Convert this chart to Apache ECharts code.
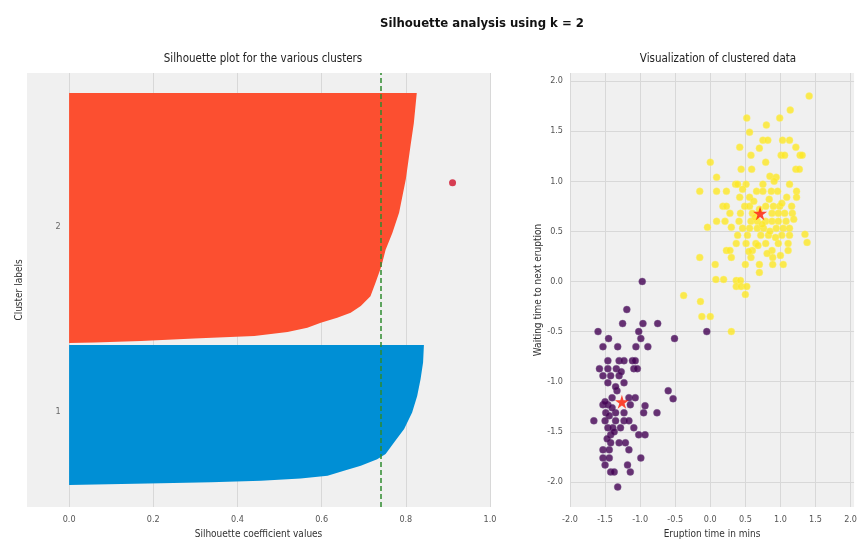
<!DOCTYPE html>
<html>
<head>
<meta charset="utf-8">
<script src="https://cdn.jsdelivr.net/npm/echarts@6/dist/echarts.min.js"></script>
<style>html,body{margin:0;padding:0;background:#fff;}#c{width:860px;height:544px;}</style>
</head>
<body>
<div id="c"></div>
<script>
// ---- Silhouette plot data (silhouette value, sample position) ----
const cluster1Profile = [
  [0.000,15.3],[0.218,16.5],[0.337,17.2],[0.456,18.3],[0.550,19.9],[0.614,21.7],[0.653,25.2],
  [0.693,28.7],[0.732,33.3],[0.752,36.8],[0.772,44.9],[0.796,54.2],[0.815,65.8],[0.827,77.3],
  [0.835,88.9],[0.841,100.5],[0.843,112.8],[0.000,112.8]
];
const cluster2Profile = [
  [0.000,114.2],[0.060,114.4],[0.171,115.5],[0.297,117.2],[0.440,119.0],[0.519,121.7],[0.566,124.8],
  [0.598,128.2],[0.637,131.7],[0.669,135.2],[0.693,139.8],[0.716,146.7],[0.728,156.0],[0.742,167.6],
  [0.752,179.0],[0.768,190.7],[0.784,204.7],[0.800,228.0],[0.811,251.0],[0.819,267.0],[0.826,288.0],[0.000,288.0]
];
const clusterLabels = ['1', '2'];
const clusterLabelPos = [[-0.026, 66], [-0.026, 195]];
const silhouetteAvg = 0.744;
const strayPoint = [[0.911, 225.7]];
const silXTicks = [0.0, 0.2, 0.4, 0.6, 0.8, 1.0];

// ---- Scatter data (eruption, waiting) ----
const scatterXTicks = [-2.0, -1.5, -1.0, -0.5, 0.0, 0.5, 1.0, 1.5, 2.0];
const scatterYTicks = [-2.0, -1.5, -1.0, -0.5, 0.0, 0.5, 1.0, 1.5, 2.0];
const cluster0Points = [
  [-0.97,0.00],[-1.19,-0.28],[-1.25,-0.42],[-0.96,-0.42],[-0.75,-0.42],[-1.60,-0.50],[-1.02,-0.50],[-0.05,-0.50],
  [-1.45,-0.57],[-0.99,-0.57],[-0.51,-0.57],[-1.53,-0.65],[-1.32,-0.65],[-1.06,-0.65],[-0.89,-0.65],
  [-1.46,-0.79],[-1.30,-0.79],[-1.23,-0.79],[-1.11,-0.79],[-1.07,-0.79],[-1.58,-0.87],[-1.46,-0.87],
  [-1.34,-0.87],[-1.09,-0.87],[-1.04,-0.87],[-1.53,-0.94],[-1.42,-0.94],[-1.30,-0.94],[-1.46,-1.01],
  [-1.23,-1.01],[-1.33,-1.09],[-0.60,-1.09],[-1.40,-1.16],[-1.16,-1.16],[-1.07,-1.16],[-0.53,-1.17],
  [-1.53,-1.23],[-1.46,-1.23],[-1.14,-1.23],[-0.93,-1.24],[-1.49,-1.31],[-1.35,-1.31],[-1.23,-1.31],
  [-0.95,-1.31],[-0.76,-1.31],[-1.66,-1.39],[-1.50,-1.39],[-1.35,-1.39],[-1.23,-1.39],[-1.16,-1.39],
  [-1.46,-1.46],[-1.39,-1.46],[-1.28,-1.46],[-1.09,-1.46],[-1.42,-1.53],[-1.02,-1.53],[-0.93,-1.53],
  [-1.42,-1.61],[-1.30,-1.61],[-1.21,-1.61],[-1.53,-1.68],[-1.44,-1.68],[-1.16,-1.68],[-1.53,-1.76],
  [-1.44,-1.76],[-0.99,-1.76],[-1.50,-1.83],[-1.18,-1.83],[-1.42,-1.90],[-1.37,-1.90],[-1.14,-1.90],
  [-1.32,-2.05],[-1.50,-1.20],[-1.40,-1.26],[-1.44,-1.34],[-1.37,-1.50],[-1.47,-1.57],[-1.35,-1.05],[-1.27,-0.90]
];
const cluster1Points = [
  [1.41,1.85],[1.14,1.71],[0.52,1.63],[0.99,1.63],[0.80,1.56],[0.56,1.49],[0.75,1.41],[0.82,1.41],
  [1.03,1.41],[1.13,1.41],[1.22,1.34],[0.42,1.34],[0.70,1.33],[1.28,1.26],[1.31,1.26],[0.58,1.26],
  [1.01,1.26],[1.06,1.26],[0.79,1.19],[0.00,1.19],[0.44,1.12],[0.59,1.12],[1.22,1.12],[1.27,1.12],
  [0.85,1.05],[0.09,1.04],[0.94,1.04],[0.36,0.97],[0.39,0.97],[0.51,0.97],[0.91,1.00],[0.75,0.97],
  [1.13,0.97],[-0.15,0.90],[0.09,0.90],[0.23,0.90],[0.66,0.90],[0.75,0.90],[0.87,0.90],[0.96,0.90],
  [1.23,0.90],[0.42,0.84],[0.56,0.84],[1.09,0.84],[1.23,0.84],[0.18,0.75],[0.23,0.75],[0.49,0.75],
  [0.56,0.75],[0.79,0.75],[0.90,0.75],[0.99,0.75],[1.16,0.75],[0.28,0.68],[0.43,0.68],[0.60,0.68],
  [0.88,0.68],[0.97,0.68],[1.06,0.68],[1.17,0.68],[0.09,0.60],[0.21,0.60],[0.41,0.60],[0.58,0.60],
  [0.67,0.60],[0.79,0.60],[0.88,0.60],[0.97,0.60],[-0.04,0.54],[0.30,0.54],[0.46,0.53],[0.56,0.53],
  [0.67,0.53],[0.76,0.53],[0.94,0.53],[1.04,0.53],[1.13,0.53],[1.35,0.47],[0.39,0.46],[0.53,0.46],
  [0.72,0.46],[0.83,0.46],[1.02,0.46],[1.13,0.46],[1.38,0.39],[0.37,0.38],[0.51,0.38],[0.65,0.38],
  [0.79,0.38],[0.97,0.38],[1.11,0.38],[0.23,0.31],[0.28,0.31],[0.60,0.31],[0.88,0.31],[1.11,0.31],
  [-0.15,0.24],[0.58,0.24],[0.89,0.24],[0.30,0.24],[0.70,0.17],[0.07,0.17],[0.50,0.17],[0.89,0.17],
  [1.04,0.17],[0.70,0.09],[0.08,0.02],[0.19,0.02],[0.37,0.01],[0.43,0.01],[0.37,-0.05],[0.44,-0.05],
  [0.52,-0.05],[0.50,-0.13],[-0.38,-0.14],[-0.14,-0.20],[-0.12,-0.35],[0.00,-0.35],[0.30,-0.50],
  [0.62,0.80],[0.70,0.72],[0.84,0.82],[1.02,0.78],[0.64,0.64],[0.74,0.57],[0.85,0.50],[1.08,0.60],
  [0.46,0.92],[0.93,0.44],[0.55,0.30],[0.81,0.28],[1.00,0.26],[0.68,0.36],[1.19,0.62]
];
const centroids = [[-1.26,-1.20],[0.71,0.68]];

const FONT = 'DejaVu Sans Condensed, DejaVu Sans, sans-serif';
const STAR = 'path://M50,0 L61,35 L98,35 L68,57 L79,91 L50,70 L21,91 L32,57 L2,35 L39,35 Z';
const fmt1 = v => Number(v).toFixed(1);

function polygonSeries(profile, color) {
  return {
    type: 'custom', xAxisIndex: 0, yAxisIndex: 0, silent: true,
    data: profile,
    renderItem: function (params, api) {
      if (params.dataIndex !== 0) return null;
      return {
        type: 'polygon',
        shape: { points: profile.map(p => api.coord(p)) },
        style: { fill: color, stroke: null }
      };
    },
    z: 2
  };
}

const chart = echarts.init(document.getElementById('c'), null, { renderer: 'canvas' });
chart.setOption({
  backgroundColor: '#ffffff',
  animation: false,
  textStyle: { fontFamily: FONT },
  title: [
    { text: 'Silhouette analysis using k = 2', left: 477, top: 12, textAlign: 'center',
      textStyle: { fontFamily: FONT, fontSize: 13, fontWeight: 'bold', color: '#111' } },
    { text: 'Silhouette plot for the various clusters', left: 258, top: 48, textAlign: 'center',
      textStyle: { fontFamily: FONT, fontSize: 11.5, fontWeight: 'normal', color: '#222' } },
    { text: 'Visualization of clustered data', left: 713, top: 48, textAlign: 'center',
      textStyle: { fontFamily: FONT, fontSize: 11.5, fontWeight: 'normal', color: '#222' } }
  ],
  grid: [
    { left: 27, right: 370, top: 73, bottom: 36, show: true, backgroundColor: '#f0f0f0', borderWidth: 0 },
    { left: 570, right: 0, top: 73, bottom: 36, show: true, backgroundColor: '#f0f0f0', borderWidth: 0 }
  ],
  xAxis: [
    { gridIndex: 0, type: 'value', min: -0.1, max: 1.0,
      name: 'Silhouette coefficient values', nameLocation: 'middle', nameGap: 22,
      nameTextStyle: { fontFamily: FONT, fontSize: 10, color: '#333' },
      axisLine: { show: false },
      axisTick: { show: false, customValues: silXTicks },
      axisLabel: { fontFamily: FONT, fontSize: 9, color: '#555', margin: 8, customValues: silXTicks, formatter: fmt1 },
      splitLine: { show: true, lineStyle: { color: '#d8d8d8', width: 1 } } },
    { gridIndex: 1, type: 'value', min: -2.0, max: 2.05,
      name: 'Eruption time in mins', nameLocation: 'middle', nameGap: 22,
      nameTextStyle: { fontFamily: FONT, fontSize: 10, color: '#333' },
      axisLine: { show: false },
      axisTick: { show: false, customValues: scatterXTicks },
      axisLabel: { fontFamily: FONT, fontSize: 9, color: '#555', margin: 8, customValues: scatterXTicks, formatter: fmt1 },
      splitLine: { show: true, lineStyle: { color: '#d8d8d8', width: 1 } } }
  ],
  yAxis: [
    { gridIndex: 0, type: 'value', min: 0, max: 302,
      name: 'Cluster labels', nameLocation: 'middle', nameGap: 3,
      nameTextStyle: { fontFamily: FONT, fontSize: 10, color: '#333' },
      axisLine: { show: false }, axisTick: { show: false }, axisLabel: { show: false },
      splitLine: { show: false } },
    { gridIndex: 1, type: 'value', min: -2.25, max: 2.08,
      name: 'Waiting time to next eruption', nameLocation: 'middle', nameGap: 26,
      nameTextStyle: { fontFamily: FONT, fontSize: 10, color: '#333' },
      axisLine: { show: false },
      axisTick: { show: false, customValues: scatterYTicks },
      axisLabel: { fontFamily: FONT, fontSize: 9, color: '#555', margin: 7, customValues: scatterYTicks, formatter: fmt1 },
      splitLine: { show: true, lineStyle: { color: '#d8d8d8', width: 1 } } }
  ],
  series: [
    polygonSeries(cluster1Profile, '#008fd5'),
    polygonSeries(cluster2Profile, '#fc4f30'),
    { type: 'scatter', xAxisIndex: 0, yAxisIndex: 0, silent: true,
      data: clusterLabelPos.map((p, i) => ({ value: p, name: clusterLabels[i] })),
      symbolSize: 0,
      label: { show: true, position: 'inside', formatter: p => p.name,
        fontFamily: FONT, fontSize: 9, color: '#444' } },
    { type: 'scatter', xAxisIndex: 0, yAxisIndex: 0, silent: true, data: strayPoint,
      symbolSize: 7, itemStyle: { color: '#d0102a' }, z: 5,
      markLine: { silent: true, symbol: 'none', label: { show: false },
        lineStyle: { color: '#2e8b2e', type: [5, 3], width: 1.5 },
        data: [{ xAxis: silhouetteAvg }] } },
    { type: 'scatter', xAxisIndex: 1, yAxisIndex: 1, silent: true, data: cluster0Points,
      symbolSize: 7, itemStyle: { color: '#440154', borderColor: '#7a5a8c', borderWidth: 0.5 } },
    { type: 'scatter', xAxisIndex: 1, yAxisIndex: 1, silent: true, data: cluster1Points,
      symbolSize: 7, itemStyle: { color: '#fde725', borderColor: '#fdf07a', borderWidth: 0.5 } },
    { type: 'scatter', xAxisIndex: 1, yAxisIndex: 1, silent: true, data: centroids,
      symbol: STAR, symbolSize: 14, itemStyle: { color: '#ff1a00' }, z: 6 }
  ]
});
</script>
</body>
</html>
